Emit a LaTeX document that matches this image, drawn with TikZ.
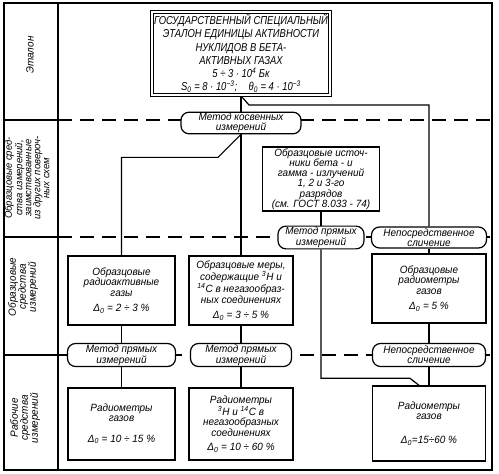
\documentclass[tikz,border=0pt]{standalone}
\usepackage{fontspec}
\setmainfont{Liberation Sans}[FakeStretch=0.95]
\newfontfamily\narrowfont{Liberation Sans}[FakeStretch=0.82]
\usetikzlibrary{positioning, calc}

\tikzset{
	frame/.style={line width=1.8pt},
	sepline/.style={line width=1.2pt, dash pattern=on 14pt off 8pt},
	link/.style={line width=1.2pt},
	box/.style={draw, line width=1.4pt, fill=white, align=center, inner sep=1pt,
		font=\itshape\fontsize{10.5}{10.3}\selectfont},
	etalonbox/.style={draw, double, line width=1.1pt, double distance=2.2pt, fill=white,
		align=center, inner sep=0pt, outer sep=2.2pt,
		font=\narrowfont\itshape\fontsize{11.5}{13.3}\selectfont},
	oval/.style={draw, line width=1.2pt, fill=white, rounded corners=8pt, align=center,
		inner sep=1pt, minimum height=21pt, font=\itshape\fontsize{10.5}{9.8}\selectfont},
	rowlabel/.style={rotate=90, align=center, font=\itshape\fontsize{10.5}{10}\selectfont},
}

\begin{document}
\begin{tikzpicture}[x=1pt, y=-1pt]
	\useasboundingbox (0,0) rectangle (499,474);
	% frame and rows
	\draw[frame] (4,3) rectangle (492,470);
	\draw[frame] (58,3) -- (58,470);
	\foreach \y in {120,237,355} {
		\draw[frame, line width=1.4pt] (4,\y) -- (58,\y);
		\draw[sepline] (58,\y) -- (492,\y);
	}
	\node[rowlabel] (rowA) at (30,55) {Эталон};
	\node[rowlabel, font=\itshape\fontsize{10}{9}\selectfont] (rowB) at (27,178)
		{Образцовые сред-\\ства измерений,\\заимствованные\\из других повероч-\\ных схем};
	\node[rowlabel] (rowC) at (23,287) {Образцовые\\средства\\измерений};
	\node[rowlabel] (rowD) at (25,418) {Рабочие\\средства\\измерений};

	% etalon
	\node[etalonbox, minimum width=177.6pt, minimum height=82.6pt] (etalon) at (241,53.5)
		{ГОСУДАРСТВЕННЫЙ СПЕЦИАЛЬНЫЙ\\
		ЭТАЛОН ЕДИНИЦЫ АКТИВНОСТИ\\
		НУКЛИДОВ В БЕТА-\\
		АКТИВНЫХ ГАЗАХ\\
		5 ÷ 3 · 10\textsuperscript{4} Бк\\
		S\textsubscript{0} = 8 · 10\textsuperscript{−3};\quad θ\textsubscript{0} = 4 · 10\textsuperscript{−3}};
	\node[oval, minimum width=120pt] (kosv) at (241,123) {Метод косвенных\\измерений};

	% borrowed standards
	\node[box, minimum width=117pt, minimum height=64pt] (ist) at (321,179)
		{Образцовые источ-\\ники бета - и\\гамма - излучений\\1, 2 и 3-го\\разрядов\\(см. ГОСТ 8.033 - 74)};
	\node[oval, minimum width=86pt] (pryamA) at (321,237.5) {Метод прямых\\измерений};
	\node[oval, minimum width=115pt] (nepA) at (429,237.5) {Непосредственное\\сличение};

	% reference instruments
	\node[box, minimum width=107pt, minimum height=69pt] (obrgaz) at (121.5,290.5)
		{Образцовые\\радиоактивные\\газы\\[5pt]Δ\textsubscript{0} = 2 ÷ 3 \%};
	\node[box, minimum width=104pt, minimum height=69pt] (obrmery) at (241,290.5)
		{Образцовые меры,\\содержащие \textsuperscript{3}H и\\\textsuperscript{14}C в негазообраз-\\ных соединениях\\[5pt]Δ\textsubscript{0} = 3 ÷ 5 \%};
	\node[box, minimum width=114pt, minimum height=69pt] (obrrad) at (429,288.5)
		{Образцовые\\радиометры\\газов\\[5pt]Δ\textsubscript{0} = 5 \%};

	\node[oval, minimum width=108pt, minimum height=23pt] (pryamB) at (121.5,355) {Метод прямых\\измерений};
	\node[oval, minimum width=101pt, minimum height=23pt] (pryamC) at (241,355) {Метод прямых\\измерений};
	\node[oval, minimum width=113pt, minimum height=23pt] (nepB) at (429,355) {Непосредственное\\сличение};

	% working instruments
	\node[box, minimum width=107pt, minimum height=72pt] (radA) at (121.5,424)
		{Радиометры\\газов\\[10pt]Δ\textsubscript{0} = 10 ÷ 15 \%};
	\node[box, minimum width=104pt, minimum height=72pt] (radB) at (241,424)
		{Радиометры\\\textsuperscript{3}H и \textsuperscript{14}C в\\негазообразных\\соединениях\\[4pt]Δ\textsubscript{0} = 10 ÷ 60 \%};
	\node[box, minimum width=113pt, minimum height=75pt] (radC) at (429,423.5)
		{Радиометры\\газов\\[14pt]Δ\textsubscript{0}=15÷60 \%};

	% links
	\draw[link] (etalon.south) -- (kosv.north);
	\draw[link] ([xshift=1pt]etalon.south) -- ++(7,8) -| (nepA.north);
	\draw[link] (kosv.south) -- (obrmery.north);
	\draw[link] (kosv.south) -- ++(-23,23) -| (obrgaz.north);
	\draw[link] (ist.south) -- (pryamA.north);
	\draw[link] (pryamA.south) |- ($(radC.north)+(-19,-7)$) -- ([xshift=-10pt]radC.north);
	\draw[link] (nepA.south) -- (obrrad.north);
	\draw[link] (obrrad.south) -- (nepB.north);
	\draw[link] (nepB.south) -- (radC.north);
	\draw[link] (obrgaz.south) -- (pryamB.north);
	\draw[link] (pryamB.south) -- (radA.north);
	\draw[link] (obrmery.south) -- (pryamC.north);
	\draw[link] (pryamC.south) -- (radB.north);
\end{tikzpicture}
\end{document}
